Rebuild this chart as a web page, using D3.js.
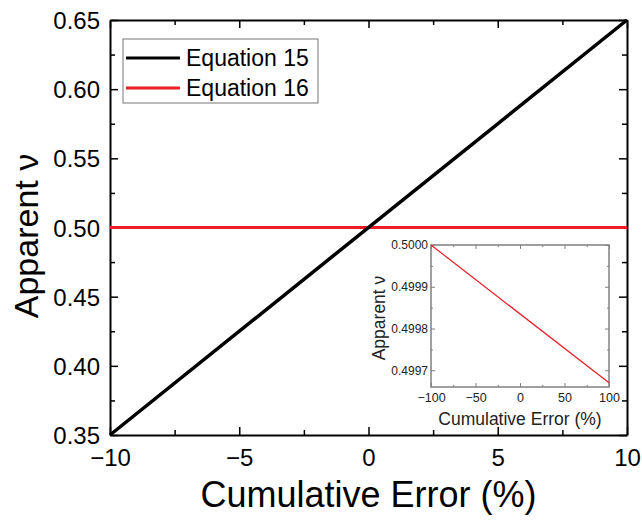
<!DOCTYPE html>
<html>
<head>
<meta charset="utf-8">
<script src="https://cdn.jsdelivr.net/npm/d3@7"></script>
<style>
  body { margin: 0; background: #fff; }
  text { font-family: "Liberation Sans", Arial, sans-serif; }
</style>
</head>
<body>
<svg width="642" height="521"></svg>
<script>
// main chart data
const errorPct = [-10, 10]
const eq15 = [0.35, 0.65]
const eq16 = [0.5, 0.5]
const xTicks = [-10, -5, 0, 5, 10]
const yTicks = [0.35, 0.40, 0.45, 0.50, 0.55, 0.60, 0.65]
const seriesNames = ["Equation 15", "Equation 16"]
const seriesColors = ["#000000", "#ee1c25"]

// inset data
const insetError = [-100, 100]
const insetNu = [0.5000, 0.49967]
const insetXTicks = [-100, -50, 0, 50, 100]
const insetYTicks = [0.4997, 0.4998, 0.4999, 0.5000]

var svg = d3.select("svg")
var m = {left: 110, top: 20, right: 627, bottom: 435}

var x = d3.scaleLinear().domain([-10, 10]).range([m.left, m.right])
var y = d3.scaleLinear().domain([0.35, 0.65]).range([m.bottom, m.top])

function minorTicks(major) {
  var out = []
  for (var i = 0; i < major.length - 1; i++) out.push((major[i] + major[i + 1]) / 2)
  return out
}
var minus = d => String(d).replace("-", "\u2212")

// draws inward ticks (major + minor) on one side
function side(parent, axisFn, scale, pos, major, majLen, minLen, fmt) {
  var gg = parent.append("g").attr("transform", pos)
  gg.call(axisFn(scale).tickValues(major).tickSizeInner(-majLen).tickSizeOuter(0).tickFormat(fmt || ""))
  var gm = parent.append("g").attr("transform", pos)
  gm.call(axisFn(scale).tickValues(minorTicks(major)).tickSizeInner(-minLen).tickSizeOuter(0).tickFormat(""))
  gm.select(".domain").remove()
  return gg
}

var g = svg.append("g")
var bx = side(g, d3.axisBottom, x, "translate(0," + m.bottom + ")", xTicks, 8, 5, minus)
var tx = side(g, d3.axisTop, x, "translate(0," + m.top + ")", xTicks, 8, 5)
var ly = side(g, d3.axisLeft, y, "translate(" + m.left + ",0)", yTicks, 8, 5, d3.format(".2f"))
var ry = side(g, d3.axisRight, y, "translate(" + m.right + ",0)", yTicks, 8, 5)
g.selectAll(".tick line").attr("stroke-width", 1.5)
g.selectAll(".domain").attr("stroke-width", 2)
g.selectAll("text").attr("font-size", 24).attr("fill", "#000")
bx.selectAll("text").attr("dy", 0).attr("y", 31)
ly.selectAll("text").attr("x", -10).attr("dy", "0.36em")

// main lines
var line = d3.line().x(d => x(d[0])).y(d => y(d[1]))
g.append("path").datum(d3.zip(errorPct, eq16))
  .attr("fill", "none").attr("stroke", seriesColors[1]).attr("stroke-width", 3).attr("d", line)
g.append("path").datum(d3.zip(errorPct, eq15))
  .attr("fill", "none").attr("stroke", seriesColors[0]).attr("stroke-width", 3.5).attr("d", line)

// axis titles
svg.append("text").attr("x", (m.left + m.right) / 2).attr("y", 507)
  .attr("text-anchor", "middle").attr("font-size", 36).text("Cumulative Error (%)")
svg.append("text").attr("transform", "translate(38,236) rotate(-90)")
  .attr("text-anchor", "middle").attr("font-size", 34).text("Apparent \u03bd")

// legend
var lg = svg.append("g").attr("transform", "translate(123,39)")
lg.append("rect").attr("width", 195).attr("height", 64)
  .attr("fill", "#fff").attr("stroke", "#777").attr("stroke-width", 1)
seriesNames.forEach((n, i) => {
  var yy = 19 + i * 30
  lg.append("line").attr("x1", 3).attr("x2", 57).attr("y1", yy).attr("y2", yy)
    .attr("stroke", seriesColors[i]).attr("stroke-width", 3)
  lg.append("text").attr("x", 63).attr("y", yy).attr("dy", "0.36em")
    .attr("font-size", 23).text(n)
})

// inset
var im = {left: 431, top: 245, right: 609, bottom: 387}
var ix = d3.scaleLinear().domain([-100, 100]).range([im.left, im.right])
var iy = d3.scaleLinear().domain([0.49966, 0.5000]).range([im.bottom, im.top])
var ig = svg.append("g")
ig.append("rect").attr("x", im.left).attr("y", im.top)
  .attr("width", im.right - im.left).attr("height", im.bottom - im.top)
  .attr("fill", "#fff").attr("stroke", "#808080").attr("stroke-width", 1.5)

var ib = side(ig, d3.axisBottom, ix, "translate(0," + im.bottom + ")", insetXTicks, 4, 2, minus)
side(ig, d3.axisTop, ix, "translate(0," + im.top + ")", insetXTicks, 4, 2)
var il = side(ig, d3.axisLeft, iy, "translate(" + im.left + ",0)", insetYTicks, 4, 2, d3.format(".4f"))
side(ig, d3.axisRight, iy, "translate(" + im.right + ",0)", insetYTicks, 4, 2)
ig.selectAll(".domain").remove()
ig.selectAll(".tick line").attr("stroke", "#808080")
ig.selectAll("text").attr("font-size", 12.5).attr("fill", "#222")
ib.selectAll("text").attr("dy", 0).attr("y", 15)
il.selectAll("text").attr("x", -3).attr("font-size", 12)

ig.append("path").datum(d3.zip(insetError, insetNu))
  .attr("fill", "none").attr("stroke", "#ee1c25").attr("stroke-width", 1.2)
  .attr("d", d3.line().x(d => ix(d[0])).y(d => iy(d[1])))

ig.append("text").attr("x", (im.left + im.right) / 2).attr("y", 425)
  .attr("text-anchor", "middle").attr("font-size", 17.5).attr("fill", "#222").text("Cumulative Error (%)")
ig.append("text").attr("transform", "translate(385,318) rotate(-90)")
  .attr("text-anchor", "middle").attr("font-size", 17.5).attr("fill", "#222").text("Apparent \u03bd")
</script>
</body>
</html>
